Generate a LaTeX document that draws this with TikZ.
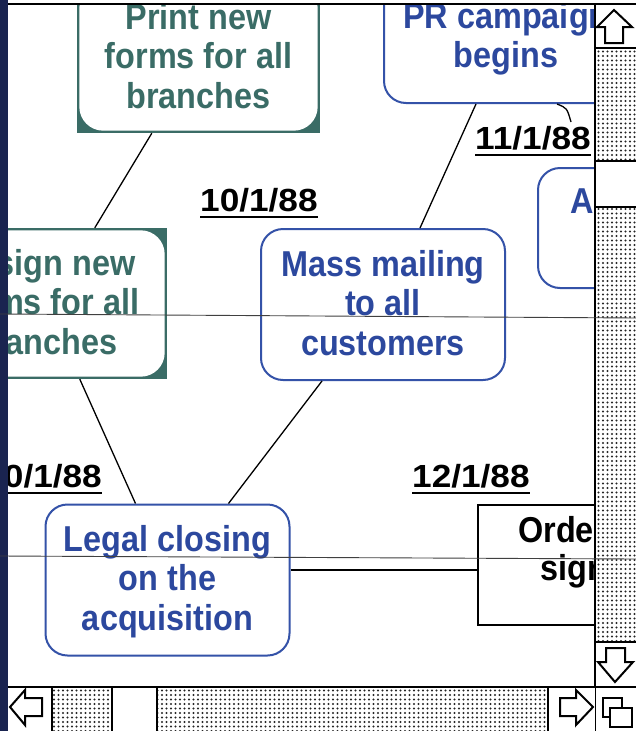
\documentclass[tikz,border=0pt]{standalone}
\usepackage{fontspec}
\setmainfont{Liberation Sans}
\newfontfamily\boxfont{Liberation Sans}[FakeStretch=0.9]
\newfontfamily\datefont{Liberation Sans}[FakeStretch=1.1]
\usetikzlibrary{patterns.meta}
\definecolor{tealc}{RGB}{58,108,102}
\definecolor{bluec}{RGB}{44,72,158}
\definecolor{blueline}{RGB}{52,82,168}
\definecolor{navyc}{RGB}{26,36,80}
\tikzset{
  bluebox/.style={draw=blueline, line width=2pt, rounded corners=22pt, fill=white,
    minimum width=244pt, minimum height=151pt, inner sep=0pt},
  tealbox/.style={fill=tealc, minimum width=243pt, minimum height=151pt, inner sep=0pt},
  blacksq/.style={draw=black, line width=2pt, fill=white,
    minimum width=244pt, minimum height=120pt, inner sep=0pt},
  bluetxt/.style={text=bluec, font=\boxfont\bfseries\fontsize{36}{39.5}\selectfont,
    align=center, inner sep=0pt},
  tealtxt/.style={bluetxt, text=tealc},
  blacktxt/.style={bluetxt, text=black, anchor=base west},
  datelbl/.style={font=\datefont\bfseries\fontsize{32}{36}\selectfont, inner sep=0pt},
  uline/.style={line width=2pt, black},
  link/.style={draw=black, line width=1.3pt},
  sbline/.style={draw=black, line width=2pt},
  arrowicon/.style={draw=black, line width=2pt, fill=white, line join=miter},
  dotfill/.style={pattern={Dots[distance=4.5pt, radius=1.15pt]}, pattern color=black!85},
  crtline/.style={draw=black!75, line width=0.9pt}
}
\newcommand{\tealinner}[1]{%
  \fill[white, rounded corners=24pt] ([shift={(2.5pt,-2.5pt)}]#1.north west)
    rectangle ([shift={(-2.5pt,2.5pt)}]#1.south east);}
\begin{document}
\begin{tikzpicture}[x=1pt, y=-1pt]
\useasboundingbox (0,0) rectangle (636,731);
\fill[white] (0,0) rectangle (636,731);

\begin{scope}
\clip (8,5) rectangle (594,686);
% teal boxes
\node[tealbox] (print) at (198.5,57.5) {};
\tealinner{print}
\node[tealtxt] (printt) at (198.5,60.6) {\strut Print new\\\strut forms for all\\\strut branches};

\node[tealbox] (design) at (45.5,303.5) {};
\tealinner{design}
\node[tealtxt] (designt) at (45.5,306.6) {\strut Design new\\\strut forms for all\\\strut branches};

% blue boxes
\node[bluebox] (pr) at (506,27.5) {};
\node[bluetxt] (prt) at (506,39.9) {\strut PR campaign\\\strut begins};

\node[bluebox, minimum height=120pt] (abox) at (660,228) {};
\node[bluetxt, anchor=base west] (abt) at (570,213) {A};

\node[bluebox] (mass) at (383,304.5) {};
\node[bluetxt] (masst) at (383,307.6) {\strut Mass mailing\\\strut to all\\\strut customers};

\node[bluebox] (legal) at (167.5,580) {};
\node[bluetxt] (legalt) at (167.5,582.6) {\strut Legal closing\\\strut on the\\\strut acquisition};

\node[blacksq] (order) at (600,565) {};
\node[blacktxt] (ordert1) at (518,542) {Order};
\node[blacktxt] (ordert2) at (540,580) {sign};

% connectors
\draw[link] ([xshift=75pt]print.south west) -- ([xshift=171pt]design.north west);
\draw[link] ([xshift=93pt]pr.south west) -- ([xshift=160pt]mass.north west);
\coordinate (stub) at (571,122);
\draw[link] ([xshift=174pt]pr.south west) .. controls (567,108) .. (stub);
\draw[link] ([xshift=156pt]design.south west) -- ([xshift=91pt]legal.north west);
\draw[link] ([xshift=62pt]mass.south west) -- ([xshift=184pt]legal.north west);
\draw[link] ([yshift=10pt]legal.east) -- ([yshift=-5pt]order.west);

% dates
\node[datelbl, anchor=base west] (d1) at (200,211) {10/1/88};
\draw[uline] ([yshift=-6pt]d1.base west) -- ([yshift=-6pt]d1.base east);
\node[datelbl, anchor=base west] (d2) at (475,149) {11/1/88};
\draw[uline] ([yshift=-6pt]d2.base west) -- ([yshift=-6pt]d2.base east);
\node[datelbl, anchor=base east] (d3) at (102,487) {10/1/88};
\draw[uline] ([yshift=-6pt]d3.base west) -- ([yshift=-6pt]d3.base east);
\node[datelbl, anchor=base west] (d4) at (412,487) {12/1/88};
\draw[uline] ([yshift=-6pt]d4.base west) -- ([yshift=-6pt]d4.base east);
\end{scope}

% vertical scrollbar
\fill[white] (594,5) rectangle (636,731);
\fill[dotfill] (594,48) rectangle (636,642);
\fill[white] (595,161) rectangle (636,207);
\draw[sbline] (595,5) -- (595,731);
\draw[sbline] (595,48) -- (636,48);
\draw[sbline] (595,161) -- (636,161);
\draw[sbline] (595,207) -- (636,207);
\draw[sbline] (595,642) -- (636,642);
% horizontal scrollbar
\fill[white] (8,686) rectangle (595,731);
\fill[dotfill] (52,686) rectangle (548,731);
\fill[white] (112,687) rectangle (157,731);
\draw[sbline] (8,686.5) -- (636,686.5);
\draw[sbline] (52,686) -- (52,731);
\draw[sbline] (112,686) -- (112,731);
\draw[sbline] (157,686) -- (157,731);
\draw[sbline] (548,686) -- (548,731);
% arrows
\draw[arrowicon] (614,10) -- (632,27) -- (623,27) -- (623,43) -- (605,43) -- (605,27) -- (597,27) -- cycle;
\draw[arrowicon] (615,682) -- (633,662) -- (625,662) -- (625,648) -- (606,648) -- (606,662) -- (598,662) -- cycle;
\draw[arrowicon] (10,707) -- (25,690) -- (25,698) -- (42,698) -- (42,716) -- (25,716) -- (25,725) -- cycle;
\draw[arrowicon] (593,707) -- (576,690) -- (576,698) -- (560,698) -- (560,716) -- (576,716) -- (576,725) -- cycle;
% size box
\draw[black, line width=2pt, fill=white] (603,698) rectangle (622,717);
\draw[black, line width=2pt, fill=white] (610,708) rectangle (632,727);

% window edges
\fill[black] (0,2.5) rectangle (636,5);
\fill[navyc] (0,0) rectangle (8,731);
% screen wires
\draw[crtline] (0,314) -- (636,318);
\draw[crtline] (0,556) -- (636,559);
\end{tikzpicture}
\end{document}
